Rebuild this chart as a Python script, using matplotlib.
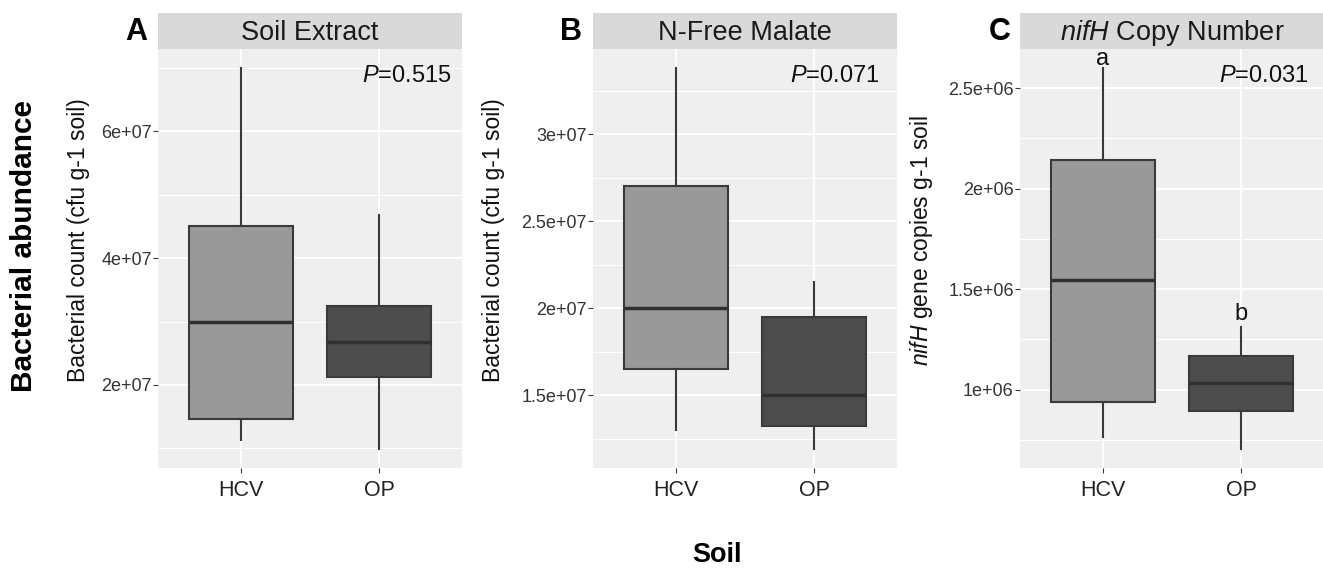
import matplotlib
matplotlib.use("Agg")
import matplotlib.pyplot as plt
from matplotlib.ticker import FuncFormatter, MultipleLocator

plt.rcParams["font.family"] = ["Liberation Sans", "DejaVu Sans"]
plt.rcParams["mathtext.fontset"] = "custom"
plt.rcParams["mathtext.rm"] = "Liberation Sans"
plt.rcParams["mathtext.it"] = "Liberation Sans:italic"

# box stats: whisker low, Q1, median, Q3, whisker high
soils = ["HCV", "OP"]

soil_extract_hcv = [1.13e7, 1.47e7, 3.00e7, 4.50e7, 7.00e7]
soil_extract_op = [0.99e7, 2.13e7, 2.68e7, 3.24e7, 4.68e7]

malate_hcv = [1.30e7, 1.65e7, 2.00e7, 2.70e7, 3.38e7]
malate_op = [1.19e7, 1.32e7, 1.50e7, 1.95e7, 2.15e7]

nifh_hcv = [0.763e6, 0.937e6, 1.547e6, 2.143e6, 2.60e6]
nifh_op = [0.705e6, 0.892e6, 1.033e6, 1.167e6, 1.313e6]

panel_titles = ["Soil Extract", "N-Free Malate", r"$\it{nifH}$ Copy Number"]
panel_letters = ["A", "B", "C"]
p_values = ["0.515", "0.071", "0.031"]
y_titles = ["Bacterial count (cfu g-1 soil)", "Bacterial count (cfu g-1 soil)",
            r"$\it{nifH}$ gene copies g-1 soil"]
y_steps = [2e7, 0.5e7, 0.5e6]
sig_letters = [None, None, ["a", "b"]]

panels = [
    (soil_extract_hcv, soil_extract_op),
    (malate_hcv, malate_op),
    (nifh_hcv, nifh_op),
]

fill_colors = ["#999999", "#4d4d4d"]
edge = "#3a3a3a"
panel_bg = "#efefef"
strip_bg = "#d9d9d9"

fig = plt.figure(figsize=(13.23, 5.68), dpi=100)

W, H = 1323, 568
lefts = [158, 593, 1020]
p_x = [0.967, 0.944, 0.95]
ylabel_x = [-0.224, -0.289, -0.28]
letter_x = [136, 571, 1000]
sig_offsets = [2, 5]


def r_fmt(v, pos):
    return "{:g}".format(v)


for i, (hcv, op) in enumerate(panels):
    ax = fig.add_axes([lefts[i] / W, 100 / H, 304 / W, 419 / H])
    strip = fig.add_axes([lefts[i] / W, 1 - 49 / H, 304 / W, 36 / H])

    stats = []
    for name, s in zip(soils, (hcv, op)):
        stats.append(dict(label=name, whislo=s[0], q1=s[1], med=s[2], q3=s[3], whishi=s[4], fliers=[]))
    bp = ax.bxp(stats, positions=[1, 2], widths=0.75, patch_artist=True, showcaps=False,
                showfliers=False,
                boxprops=dict(edgecolor=edge, linewidth=1.5),
                whiskerprops=dict(color=edge, linewidth=1.5),
                medianprops=dict(color="#303030", linewidth=2.5), zorder=3)
    for patch, c in zip(bp["boxes"], fill_colors):
        patch.set_facecolor(c)

    lo = min(hcv[0], op[0])
    hi = max(hcv[4], op[4])
    pad = (hi - lo) * 0.05
    ax.set_ylim(lo - pad, hi + pad)
    ax.set_xlim(0.4, 2.6)

    ax.set_facecolor(panel_bg)
    for sp in ax.spines.values():
        sp.set_visible(False)
    ax.yaxis.set_major_locator(MultipleLocator(y_steps[i]))
    ax.yaxis.set_minor_locator(MultipleLocator(y_steps[i] / 2))
    ax.yaxis.set_major_formatter(FuncFormatter(r_fmt))
    ax.grid(True, which="major", color="white", linewidth=1.4, zorder=0)
    ax.grid(True, which="minor", axis="y", color="white", linewidth=0.7, zorder=0)
    ax.set_axisbelow(True)
    ax.tick_params(axis="y", which="major", labelsize=13, length=3.5, color=edge, labelcolor="#333333", pad=1)
    ax.tick_params(axis="x", which="major", labelsize=15.5, length=3.5, color=edge, labelcolor="#222222", pad=5)
    ax.tick_params(which="minor", length=0)
    ax.set_xticks([1, 2])
    ax.set_xticklabels(soils)

    ax.set_ylabel(y_titles[i], fontsize=16.5, color="#111111")
    ax.yaxis.set_label_coords(ylabel_x[i], 0.544)

    ax.text(p_x[i], 0.936, r"$\it{P}$=" + p_values[i], transform=ax.transAxes,
            ha="right", va="center", fontsize=17, color="#111111")

    if sig_letters[i]:
        for pos, s, lab, off in zip([1, 2], (hcv, op), sig_letters[i], sig_offsets):
            ax.annotate(lab, (pos, s[4]), xytext=(0, off), textcoords="offset points",
                        ha="center", va="baseline", fontsize=17, color="#111111")

    strip.set_facecolor(strip_bg)
    strip.set_xticks([])
    strip.set_yticks([])
    for sp in strip.spines.values():
        sp.set_visible(False)
    strip.text(0.5, 0.45, panel_titles[i], transform=strip.transAxes, ha="center", va="center",
               fontsize=19.5, color="#1a1a1a")

    fig.text(letter_x[i] / W, 1 - 32 / H, panel_letters[i], ha="center", va="center",
             fontsize=22, fontweight="bold", color="#000000")

fig.text(24 / W, 1 - 246 / H, "Bacterial abundance", rotation=90, ha="center", va="center",
         fontsize=21.5, fontweight="bold")
fig.text(717 / W, 1 - 555 / H, "Soil", ha="center", va="center", fontsize=19.5, fontweight="bold")

fig.savefig("out.png", dpi=100)
